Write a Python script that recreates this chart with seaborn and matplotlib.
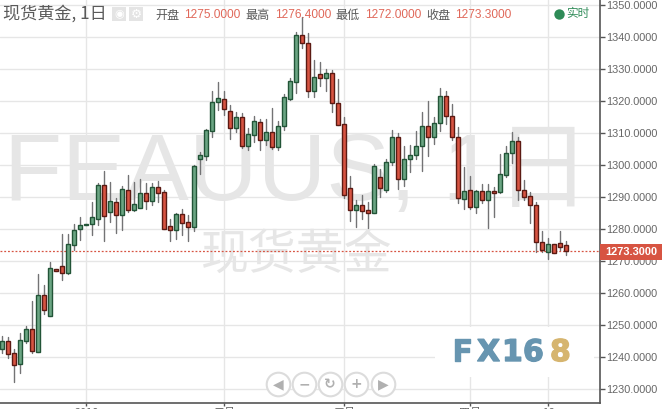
import numpy as np
import pandas as pd
import seaborn as sns
import matplotlib
matplotlib.use('Agg')
import matplotlib.pyplot as plt
import matplotlib.patheffects as pe
from matplotlib.patches import Rectangle

# daily candles
opens = [1242.7, 1245.0, 1241.2, 1238.0, 1245.2, 1248.7, 1241.8, 1259.4, 1253.0, 1267.5,
         1268.4, 1266.4, 1275.2, 1280.0, 1281.4, 1281.8, 1283.3, 1293.7, 1285.5, 1288.4,
         1284.6, 1292.2, 1286.1, 1286.8, 1291.2, 1288.9, 1293.1, 1291.6, 1280.9, 1279.9,
         1284.7, 1282.2, 1280.8, 1302.1, 1303.0, 1310.8, 1319.7, 1320.8, 1316.9, 1311.8,
         1315.0, 1306.1, 1309.6, 1313.4, 1307.8, 1310.3, 1305.8, 1312.2, 1320.8, 1325.9,
         1340.6, 1338.1, 1323.1, 1328.4, 1327.2, 1328.7, 1319.4, 1312.8, 1292.8, 1286.1,
         1287.5, 1285.9, 1285.2, 1296.2, 1292.4, 1300.9, 1308.7, 1295.6, 1301.9, 1303.1,
         1305.9, 1312.2, 1309.0, 1313.1, 1321.6, 1315.3, 1309.0, 1289.6, 1292.2, 1287.1,
         1291.9, 1289.3, 1291.9, 1291.6, 1296.9, 1303.7, 1307.5, 1292.2, 1290.3, 1287.5,
         1276.1, 1272.8, 1275.3, 1275.6, 1275.0]
closes = [1245.0, 1241.1, 1237.7, 1245.3, 1248.7, 1242.1, 1259.4, 1254.9, 1267.8, 1267.1,
          1266.4, 1275.3, 1279.7, 1281.5, 1281.8, 1283.7, 1293.7, 1284.3, 1288.7, 1284.6,
          1292.5, 1286.1, 1287.8, 1291.2, 1288.9, 1293.1, 1291.4, 1280.2, 1279.9, 1284.7,
          1282.1, 1280.8, 1299.7, 1303.1, 1310.9, 1319.7, 1320.9, 1317.5, 1311.8, 1315.0,
          1306.1, 1309.7, 1313.7, 1307.8, 1310.3, 1305.8, 1312.2, 1321.2, 1326.2, 1340.6,
          1338.1, 1323.1, 1327.7, 1327.2, 1328.7, 1319.4, 1312.7, 1290.8, 1286.1, 1287.5,
          1285.8, 1285.2, 1299.7, 1293.0, 1300.9, 1308.7, 1295.6, 1301.9, 1303.1, 1305.9,
          1312.2, 1309.0, 1313.1, 1321.6, 1315.3, 1309.0, 1289.7, 1291.9, 1287.1, 1291.9,
          1289.3, 1291.9, 1291.2, 1297.2, 1303.7, 1307.5, 1292.2, 1290.0, 1287.5, 1276.1,
          1273.4, 1275.3, 1272.5, 1274.4, 1273.3]
highs = [1246.7, 1246.3, 1242.6, 1247.5, 1249.8, 1257.6, 1266.0, 1262.6, 1269.8, 1267.6,
         1278.5, 1278.5, 1281.7, 1283.7, 1281.8, 1288.4, 1294.6, 1298.1, 1294.8, 1289.7,
         1293.4, 1296.9, 1294.8, 1295.6, 1294.4, 1294.4, 1295.0, 1292.2, 1283.2, 1285.0,
         1286.2, 1284.5, 1300.1, 1304.2, 1311.5, 1323.2, 1326.0, 1323.2, 1318.8, 1316.7,
         1316.2, 1311.7, 1315.4, 1314.5, 1314.5, 1317.9, 1313.8, 1322.3, 1327.3, 1341.7,
         1346.4, 1341.2, 1332.9, 1332.3, 1330.0, 1329.8, 1327.0, 1315.2, 1296.7, 1289.2,
         1290.7, 1288.5, 1300.3, 1298.8, 1302.0, 1310.9, 1310.1, 1306.0, 1306.3, 1310.7,
         1316.7, 1320.1, 1315.0, 1324.2, 1323.2, 1319.2, 1312.0, 1299.5, 1296.7, 1292.3,
         1294.2, 1294.2, 1293.1, 1303.5, 1306.0, 1310.3, 1308.7, 1295.4, 1291.8, 1288.5,
         1279.5, 1277.3, 1275.3, 1279.5, 1276.4]
lows = [1241.3, 1239.8, 1232.4, 1235.2, 1244.6, 1241.4, 1241.8, 1253.6, 1253.0, 1267.0,
        1264.2, 1266.0, 1273.5, 1276.7, 1281.4, 1278.2, 1281.3, 1276.3, 1282.4, 1278.8,
        1279.8, 1285.5, 1285.7, 1286.6, 1286.3, 1287.6, 1288.6, 1280.2, 1276.3, 1277.0,
        1278.2, 1276.3, 1279.5, 1297.3, 1301.7, 1308.9, 1317.3, 1315.7, 1308.2, 1310.4,
        1305.4, 1304.8, 1307.2, 1304.8, 1306.2, 1305.0, 1304.8, 1311.0, 1320.4, 1322.7,
        1336.8, 1321.5, 1321.5, 1324.9, 1323.3, 1316.7, 1312.5, 1289.8, 1282.6, 1280.8,
        1283.2, 1280.5, 1285.2, 1290.2, 1291.8, 1300.1, 1292.6, 1293.5, 1297.9, 1301.9,
        1298.2, 1302.9, 1306.7, 1310.7, 1312.8, 1307.9, 1288.3, 1286.5, 1286.5, 1285.2,
        1288.1, 1280.5, 1284.0, 1291.2, 1296.5, 1300.8, 1289.3, 1289.2, 1282.1, 1272.8,
        1272.8, 1270.8, 1272.5, 1273.5, 1272.0]

price_ticks = [1230, 1240, 1250, 1260, 1270, 1280, 1290, 1300, 1310, 1320, 1330, 1340, 1350]
time_ticks = [14, 37, 57, 78, 91]
time_labels = ['2018', '二月', '三月', '四月', '16']

title = '现货黄金, 1日'
ohlc_names = ['开盘', '最高', '最低', '收盘']
ohlc_values = ['1275.0000', '1276.4000', '1272.0000', '1273.3000']

W, H = 664, 409
UP, DOWN = '#6BA583', '#D75442'
UP_EDGE, DOWN_EDGE = '#225437', '#5B1A13'
WICK = '#737375'
GRID = '#E6E6E6'
AXIS = '#555555'
LABEL = '#666666'
WATER = '#E6E6E6'
CJK = ['Noto Sans CJK SC', 'DejaVu Sans']
LATIN = ['Liberation Sans', 'Noto Sans CJK SC']


def put(x, y, s, **kw):
    # text at a pixel position of the figure
    kw.setdefault('va', 'center')
    return fig.text(x / W, 1 - y / H, s, **kw)


def main():
    global fig
    sns.set_theme(style='white')
    plt.rcParams['font.family'] = LATIN

    df = pd.DataFrame({'i': np.arange(len(opens)), 'open': opens, 'close': closes,
                       'high': highs, 'low': lows})
    df['height'] = df['close'] - df['open']

    fig = plt.figure(figsize=(W / 100, H / 100), dpi=100)
    ax = fig.add_axes([0, 1 - 403.3 / H, 600 / W, 403.3 / H])

    # wicks, one two point line per candle
    wicks = df.melt(id_vars='i', value_vars=['high', 'low'], value_name='price')
    sns.lineplot(data=wicks, x='i', y='price', units='i', estimator=None, sort=False,
                 color=WICK, lw=1, ax=ax, zorder=2)

    up = df[df['close'] >= df['open']]
    down = df[df['close'] < df['open']]
    sns.barplot(data=up, x='i', y='height', native_scale=True, errorbar=None,
                bottom=up['open'].values, color=UP, saturation=1, width=0.67,
                edgecolor=UP_EDGE, linewidth=1, ax=ax, zorder=3)
    sns.barplot(data=down, x='i', y='height', native_scale=True, errorbar=None,
                bottom=down['open'].values, color=DOWN, saturation=1, width=0.67,
                edgecolor=DOWN_EDGE, linewidth=1, ax=ax, zorder=3)

    ax.set_xlim(-2.3 / 6, (600 - 2.3) / 6)
    ax.set_ylim(1340 - (403.3 - 37.3) / 3.2, 1340 + 37.3 / 3.2)
    ax.set_xlabel('')
    ax.set_ylabel('')

    ax.yaxis.tick_right()
    ax.set_yticks(price_ticks)
    ax.set_yticklabels(['%.4f' % p for p in price_ticks], fontsize=7.8, color=LABEL)
    ax.set_xticks(time_ticks)
    ax.set_xticklabels(time_labels, fontsize=7.9, color=LABEL, family=CJK)
    ax.tick_params(axis='y', length=3.5, width=1, color=AXIS, pad=1, right=True)
    ax.tick_params(axis='x', length=2, width=1, color=AXIS, pad=1.5, bottom=True)
    ax.grid(True, color=GRID, lw=1)
    ax.set_axisbelow(True)

    for side in ['top', 'left']:
        ax.spines[side].set_visible(False)
    for side in ['right', 'bottom']:
        ax.spines[side].set_color(AXIS)
        ax.spines[side].set_linewidth(1.2)

    # watermarks
    ax.text(4 / 600, 1 - 200 / 403.3, 'FEAUUS, 1日', transform=ax.transAxes, fontsize=68.5,
            color=WATER, family=LATIN, va='baseline', zorder=0.3)
    ax.text(201 / 600, 1 - 256 / 403.3, '现货黄金', transform=ax.transAxes, fontsize=34.5,
            color=WATER, family=CJK, va='center', zorder=0.3)

    # last price line and its flag
    ax.axhline(closes[-1], color=DOWN, lw=0.9, ls=(0, (1.5, 1.5)), zorder=2.5)
    fig.add_artist(Rectangle((599.5 / W, 1 - 260 / H), 62.5 / W, 16 / H, color=DOWN, lw=0, zorder=5))
    put(605, 252, '%.4f' % closes[-1], color='white', fontsize=7.9, fontweight='bold', zorder=6)

    # logo on a white patch
    ax.add_patch(Rectangle((435 / 600, 1 - 377 / 403.3), 159 / 600, 50 / 403.3, transform=ax.transAxes,
                           color='white', lw=0, zorder=1))
    for x, s, c in zip([452, 477, 502, 523, 550], 'FX168',
                       ['#6795B0'] * 4 + ['#D6B56F']):
        t = put(x, 352.5, s, color=c, fontsize=21.5, fontweight='bold', family='DejaVu Sans',
                zorder=4)
        t.set_path_effects([pe.withStroke(linewidth=1, foreground=c)])

    # header
    put(3, 14, title, color='#5A5A5A', fontsize=12.3, family=CJK)
    for x in [112, 129]:
        fig.add_artist(Rectangle((x / W, 1 - 21 / H), 14 / W, 14 / H, color='#E4E4E4', lw=0))
    put(119, 14, '◉', color='white', fontsize=8, ha='center', family='DejaVu Sans')
    put(136, 14, '⚙', color='white', fontsize=9, ha='center', family='DejaVu Sans')
    for x, name in zip([155, 245, 335, 426], ohlc_names):
        put(x, 15, name, color='#5A5A5A', fontsize=8.7, family=CJK)
    for x, val in zip([184, 275, 365, 455], ohlc_values):
        put(x, 15, val, color='#E0685A', fontsize=8.6)
    ax.plot([559 / 600], [1 - 14 / 403.3], 'o', ms=7.5, color='#2E8B57', mew=0,
            transform=ax.transAxes, zorder=5, clip_on=False)
    put(566, 14, '实时', color='#2E8B57', fontsize=8.4, family=CJK)

    # zoom buttons
    for x, s in zip([278, 304, 330, 356, 383], ['◀', '−', '↻', '+', '▶']):
        ax.plot([x / 600], [1 - 384 / 403.3], 'o', ms=17, mfc='white', mec='#DCDCDC', mew=1.5,
                transform=ax.transAxes, zorder=5, clip_on=False)
        put(x, 384, s, color='#B0B0B0', fontsize=10, ha='center', fontweight='bold',
            family='DejaVu Sans', zorder=6)

    fig.savefig('out.png', dpi=100, facecolor='white')


if __name__ == '__main__':
    main()
